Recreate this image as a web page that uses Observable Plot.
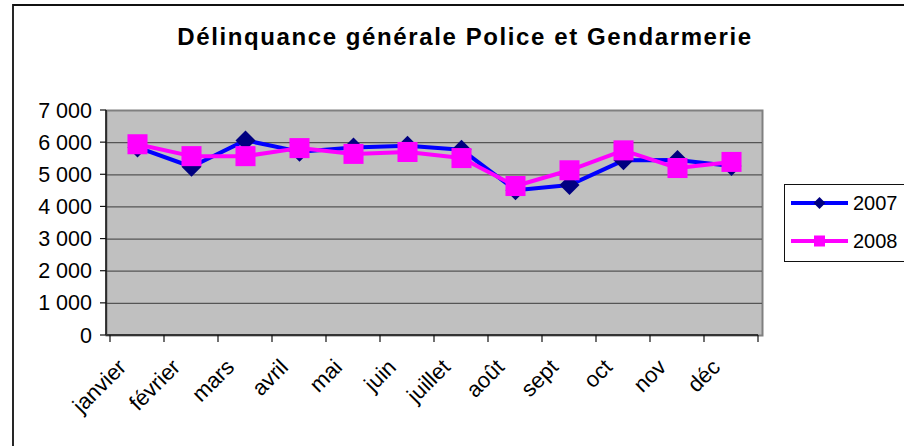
<!DOCTYPE html>
<html><head><meta charset="utf-8">
<script src="https://cdn.jsdelivr.net/npm/d3@7"></script>
<script src="https://cdn.jsdelivr.net/npm/@observablehq/plot@0.6"></script>
<style>body{margin:0;background:#fff}#chart{width:904px;height:446px;overflow:hidden}</style>
</head><body><div id="chart"></div>
<script>
const months = ["janvier","février","mars","avril","mai","juin","juillet","août","sept","oct","nov","déc"];
const values2007 = [5850,5250,6070,5720,5850,5900,5780,4520,4680,5450,5460,5270];
const values2008 = [5950,5580,5580,5830,5650,5710,5520,4650,5140,5760,5210,5400];
const yTicks = [0,1000,2000,3000,4000,5000,6000,7000];
const seriesNames = ["2007","2008"];
const chartTitle = "Délinquance générale Police et Gendarmerie";

const rows2007 = months.map((m,i)=>({month:m, year:"2007", value:values2007[i]}));
const rows2008 = months.map((m,i)=>({month:m, year:"2008", value:values2008[i]}));
const font = "'Liberation Sans', Arial, sans-serif";
const fmt = v => d3.format(",")(v).replace(/,/g, " ");

const plot = Plot.plot({
  width:904, height:446,
  marginLeft:106, marginRight:142, marginTop:110, marginBottom:111,
  x:{type:"point", domain:months, padding:0.5, axis:null},
  y:{domain:[0,7000], axis:null},
  color:{domain:seriesNames, range:["#0000ff","#ff00ff"]},
  style:{fontFamily:font, background:"white", color:"black"},
  marks:[
    Plot.frame({fill:"#c0c0c0", stroke:"#808080", strokeWidth:2}),
    Plot.ruleY(yTicks.filter(d=>d>0 && d<7000), {stroke:"#555", strokeWidth:1.2}),
    Plot.line(rows2007, {x:"month", y:"value", stroke:"year", strokeWidth:4}),
    Plot.dot(rows2007, {x:"month", y:"value", symbol:"diamond2", fill:"#000080", r:9}),
    Plot.line(rows2008, {x:"month", y:"value", stroke:"year", strokeWidth:4}),
    Plot.dot(rows2008, {x:"month", y:"value", symbol:"square", fill:"#ff00ff", r:11.3}),
    Plot.text(months, {x:d=>d, frameAnchor:"bottom", rotate:-45, textAnchor:"end", dx:-10, dy:33, fontSize:22, text:d=>d})
  ]
});
document.getElementById("chart").appendChild(plot);

(function(){
const svg = d3.select(plot);
const xs = plot.scale("x"), ys = plot.scale("y");
const step = xs.apply(months[1]) - xs.apply(months[0]);
const x0 = 106, yb = ys.apply(0), yt = ys.apply(7000);
const x1 = xs.apply(months[months.length-1]) + step/2;

const g = svg.append("g").attr("text-anchor","start");
g.append("line").attr("x1",x0).attr("x2",x0).attr("y1",yt).attr("y2",yb).attr("stroke","#111").attr("stroke-width",1.5);
g.append("line").attr("x1",x0).attr("x2",x1).attr("y1",yb).attr("y2",yb).attr("stroke","#333").attr("stroke-width",2);
yTicks.forEach(v=>{
  const y = ys.apply(v);
  g.append("line").attr("x1",x0-6).attr("x2",x0).attr("y1",y).attr("y2",y).attr("stroke","#111").attr("stroke-width",1.2);
  g.append("text").attr("x",x0-14).attr("y",y).attr("dy","0.35em").attr("text-anchor","end")
   .attr("font-size",21.5).attr("font-family",font).text(fmt(v));
});
months.forEach(m=>{
  const x = xs.apply(m) - step/2;
  g.append("line").attr("x1",x).attr("x2",x).attr("y1",yb).attr("y2",yb+7).attr("stroke","#111").attr("stroke-width",1.2);
});
g.append("line").attr("x1",x1).attr("x2",x1).attr("y1",yb).attr("y2",yb+7).attr("stroke","#111").attr("stroke-width",1.2);

g.append("path").attr("d","M13,446V5H910").attr("fill","none").attr("stroke","#111").attr("stroke-width",1.8);

g.append("text").attr("x",465).attr("y",45).attr("text-anchor","middle").attr("font-weight","bold")
 .attr("font-size",24).attr("letter-spacing",1.6).attr("font-family",font).text(chartTitle);

const lg = g.append("g");
lg.append("rect").attr("x",784.5).attr("y",184.5).attr("width",140).attr("height",77).attr("fill","white").attr("stroke","#111").attr("stroke-width",1);
const ly = [203, 241], lc = ["#0000ff","#ff00ff"];
seriesNames.forEach((s,i)=>{
  lg.append("line").attr("x1",791).attr("x2",848).attr("y1",ly[i]).attr("y2",ly[i]).attr("stroke",lc[i]).attr("stroke-width",4);
  if (i===0) lg.append("path").attr("d",d3.symbol(d3.symbolDiamond2, 90)()).attr("transform",`translate(819.5,${ly[i]})`).attr("fill","#000080");
  else lg.append("rect").attr("x",814).attr("y",ly[i]-5.5).attr("width",11).attr("height",11).attr("fill","#ff00ff");
  lg.append("text").attr("x",853).attr("y",ly[i]).attr("dy","0.35em").attr("text-anchor","start").attr("font-size",20).attr("font-family",font).text(s);
});
})();
</script></body></html>
